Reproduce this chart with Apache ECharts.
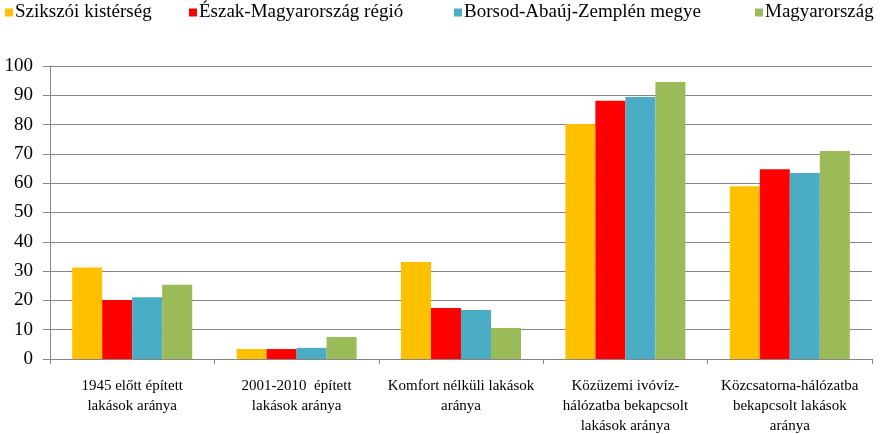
<!DOCTYPE html>
<html><head><meta charset="utf-8">
<script src="https://cdn.jsdelivr.net/npm/echarts@6/dist/echarts.min.js"></script>
<style>html,body{margin:0;padding:0;background:#fff}#c{width:882px;height:434px}</style>
</head><body><div id="c"></div>
<script>
const categories = [
  "1945 előtt épített\nlakások aránya",
  "2001-2010  épített\nlakások aránya",
  "Komfort nélküli lakások\naránya",
  "Közüzemi ivóvíz-\nhálózatba bekapcsolt\nlakások aránya",
  "Közcsatorna-hálózatba\nbekapcsolt lakások\naránya"
];
const seriesNames = ["Szikszói kistérség", "Észak-Magyarország régió", "Borsod-Abaúj-Zemplén megye", "Magyarország"];
const szikszoi = [31.2, 3.4, 33.1, 80.2, 59.0];
const eszak = [20.1, 3.4, 17.4, 88.1, 64.8];
const borsod = [21.1, 3.8, 16.7, 89.4, 63.5];
const magyar = [25.3, 7.5, 10.6, 94.5, 71.0];
const colors = ["#FFC000", "#FF0000", "#4BACC6", "#9BBB59"];
const values = [szikszoi, eszak, borsod, magyar];
const legendLefts = [0, 184, 449, 750];

const chart = echarts.init(document.getElementById('c'));
const font = '"Liberation Serif", "Times New Roman", serif';
chart.setOption({
  animation: false,
  color: colors,
  textStyle: {fontFamily: font},
  legend: seriesNames.map((n, i) => ({
    left: legendLefts[i], top: -2, itemWidth: 8, itemHeight: 8, icon: 'rect',
    textStyle: {fontFamily: font, fontSize: 19, color: '#000', padding: [0,0,0,-3]},
    data: [n]
  })),
  grid: {left: 50, right: 10, top: 66, bottom: 75, containLabel: false, outerBoundsMode: 'none'},
  xAxis: {
    type: 'category', data: categories,
    axisLine: {lineStyle: {color: '#868686'}},
    axisTick: {show: true, length: 5, lineStyle: {color: '#868686'}},
    axisLabel: {interval: 0, color: '#000', fontFamily: font, fontSize: 15, lineHeight: 20, margin: 17}
  },
  yAxis: {
    type: 'value', min: 0, max: 100, interval: 10,
    axisLine: {show: true, lineStyle: {color: '#868686'}},
    axisTick: {show: true, length: 7, lineStyle: {color: '#868686'}},
    splitLine: {lineStyle: {color: '#868686'}},
    axisLabel: {color: '#000', fontFamily: font, fontSize: 19, margin: 17}
  },
  series: seriesNames.map((n, i) => ({
    name: n, type: 'bar', data: values[i], barGap: '0%', barCategoryGap: '27%',
    itemStyle: {color: colors[i]}
  }))
});
</script></body></html>
